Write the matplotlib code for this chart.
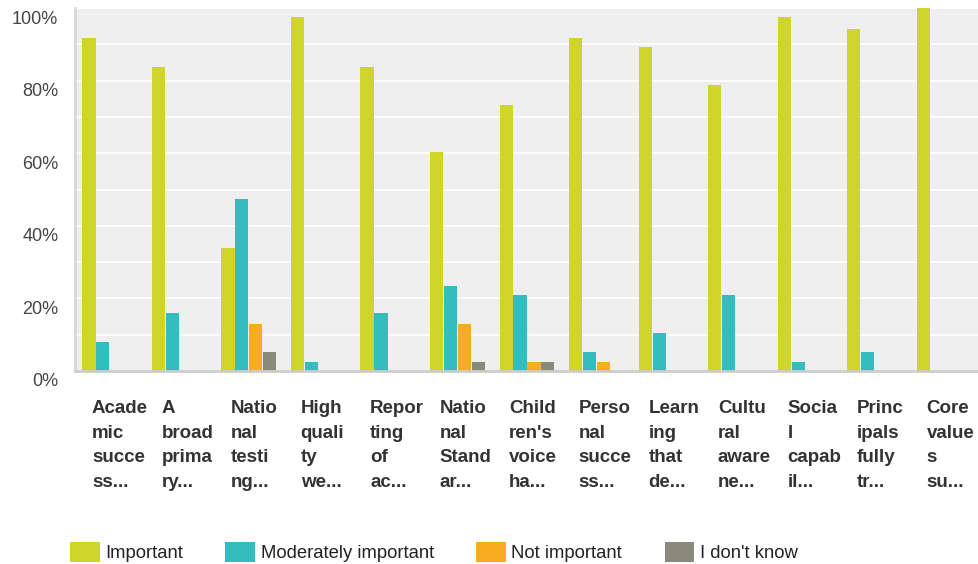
import numpy as np
import matplotlib.pyplot as plt
from matplotlib.patches import Patch
from matplotlib.transforms import ScaledTranslation

plt.rcParams['font.family'] = ['Liberation Sans', 'DejaVu Sans']

# Data (percent of respondents)
categories = [
    'Acade\nmic\nsucce\nss...', 'A\nbroad\nprima\nry...', 'Natio\nnal\ntesti\nng...',
    'High\nquali\nty\nwe...', 'Repor\nting\nof\nac...', 'Natio\nnal\nStand\nar...',
    'Child\nren\'s\nvoice\nha...', 'Perso\nnal\nsucce\nss...', 'Learn\ning\nthat\nde...',
    'Cultu\nral\naware\nne...', 'Socia\nl\ncapab\nil...', 'Princ\nipals\nfully\ntr...',
    'Core\nvalue\ns\nsu...',
]
important = [91.7, 83.7, 33.8, 97.4, 83.7, 60.2, 73.2, 91.6, 89.2, 78.7, 97.4, 94.2, 100]
moderately = [8.1, 16.0, 47.3, 2.4, 16.0, 23.3, 20.9, 5.1, 10.4, 20.9, 2.4, 5.1, 0]
not_important = [0, 0, 12.9, 0, 0, 12.9, 2.4, 2.4, 0, 0, 0, 0, 0]
dont_know = [0, 0, 5.1, 0, 0, 2.4, 2.4, 0, 0, 0, 0, 0, 0]

series = ['Important', 'Moderately important', 'Not important', "I don't know"]
colors = ['#CFD52A', '#33BDBF', '#F6AE20', '#8A8A7B']

fig = plt.figure(figsize=(9.79, 5.64), dpi=100)
ax = fig.add_axes([75 / 979, 1 - 371 / 564, 904 / 979, 363 / 564])
ax.set_facecolor('#EFEFEF')

x = np.arange(len(categories))
width = 0.19
offsets = [-0.3, -0.1, 0.1, 0.3]
for vals, off, col in zip([important, moderately, not_important, dont_know], offsets, colors):
    ax.bar(x + off, vals, width, color=col, zorder=3)

ax.set_xlim(-0.5, len(categories) - 0.5)
ax.set_ylim(0, 100)

# y axis
ax.set_yticks(np.arange(0, 101, 20))
ax.set_yticklabels([f'{v}%' for v in range(0, 101, 20)])
ax.set_yticks(np.arange(10, 100, 20), minor=True)
ax.grid(axis='y', which='both', color='white', linewidth=1.3, zorder=1)
ax.tick_params(axis='y', which='both', length=0, pad=12, labelsize=13, labelcolor='#444444')
for lab in ax.get_yticklabels():
    lab.set_transform(lab.get_transform() + ScaledTranslation(0, -0.09, fig.dpi_scale_trans))

# x axis labels, left aligned inside each slot
ax.set_xticks(x)
ax.set_xticklabels(categories, ha='left', va='top', fontweight='bold', fontsize=13.5,
                   color='#333333', linespacing=1.58)
ax.tick_params(axis='x', length=0, pad=21)
for lab in ax.get_xticklabels():
    lab.set_transform(lab.get_transform() + ScaledTranslation(-0.178, 0, fig.dpi_scale_trans))

for s in ['top', 'right']:
    ax.spines[s].set_visible(False)
ax.spines['left'].set_color('#D8D8D8')
ax.spines['left'].set_linewidth(2)
ax.spines['bottom'].set_color('#CCCCCC')
ax.spines['bottom'].set_linewidth(2)
ax.spines['bottom'].set_zorder(4)

handles = [Patch(facecolor=c, edgecolor='none', label=s) for s, c in zip(series, colors)]
fig.legend(handles=handles, loc='center left', bbox_to_anchor=(70 / 979, 1 - 552 / 564),
           ncol=4, frameon=False, fontsize=13.3, handlelength=1.6, handleheight=1.3,
           handletextpad=0.3, columnspacing=2.3, borderpad=0, borderaxespad=0,
           labelcolor='#222222')

fig.savefig('out.png', dpi=100)
